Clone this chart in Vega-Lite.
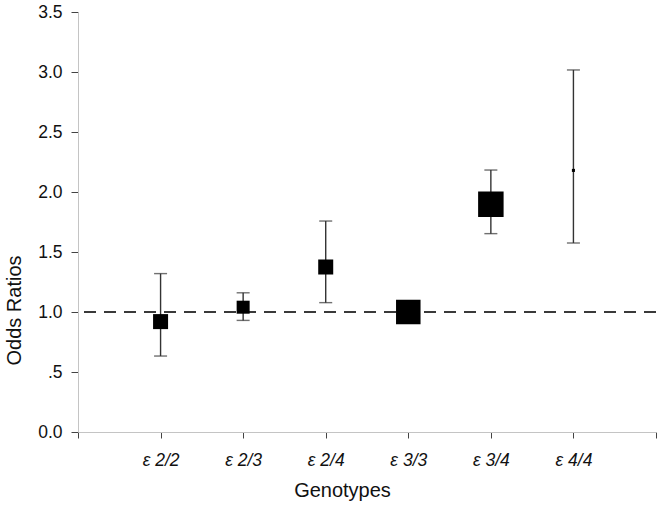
{
  "$schema": "https://vega.github.io/schema/vega-lite/v6.json",
  "width": 578,
  "height": 420,
  "autosize": "none",
  "padding": {"left": 78, "top": 12, "right": 8, "bottom": 73},
  "background": "white",
  "config": {
    "view": {"stroke": null},
    "font": "Liberation Sans",
    "axis": {"grid": false, "domainColor": "#c4c4c4", "domainWidth": 1, "tickColor": "#444444", "tickWidth": 1, "labelColor": "#111111", "titleColor": "#111111", "titleFontWeight": "normal"}
  },
  "data": {
    "values": [
      {"genotype": "ε 2/2", "or": 0.92, "lo": 0.633, "hi": 1.32, "weight": 12.0},
      {"genotype": "ε 2/3", "or": 1.04, "lo": 0.93, "hi": 1.16, "weight": 9.0},
      {"genotype": "ε 2/4", "or": 1.375, "lo": 1.078, "hi": 1.758, "weight": 12.0},
      {"genotype": "ε 3/3", "or": 1.0, "lo": null, "hi": null, "weight": 32.0},
      {"genotype": "ε 3/4", "or": 1.898, "lo": 1.653, "hi": 2.183, "weight": 34.6},
      {"genotype": "ε 4/4", "or": 2.18, "lo": 1.575, "hi": 3.017, "weight": 0.5}
    ]
  },
  "encoding": {
    "x": {
      "field": "genotype",
      "type": "nominal",
      "scale": {"type": "point", "domain": [" ", "ε 2/2", "ε 2/3", "ε 2/4", "ε 3/3", "ε 3/4", "ε 4/4", "  "], "padding": 0},
      "axis": {"title": "Genotypes", "labelAngle": 0, "labelFontSize": 17.5, "labelFontStyle": "italic", "labelPadding": 13, "tickSize": 6, "titleFontSize": 20, "titleX": 264, "titleY": 48, "titleAlign": "center", "titleBaseline": "top"}
    }
  },
  "layer": [
    {
      "mark": {"type": "rule", "color": "#3a3a3a", "strokeWidth": 1.5, "strokeDash": [12, 8]},
      "encoding": {"x": null, "y": {"datum": 1, "type": "quantitative"}}
    },
    {
      "mark": {"type": "rule", "color": "#333333", "strokeWidth": 1.4},
      "encoding": {
        "y": {"field": "lo", "type": "quantitative"},
        "y2": {"field": "hi"}
      }
    },
    {
      "mark": {"type": "tick", "orient": "horizontal", "color": "#333333", "size": 13, "thickness": 1.4},
      "encoding": {"y": {"field": "lo", "type": "quantitative"}}
    },
    {
      "mark": {"type": "tick", "orient": "horizontal", "color": "#333333", "size": 13, "thickness": 1.4},
      "encoding": {"y": {"field": "hi", "type": "quantitative"}}
    },
    {
      "mark": {"type": "point", "shape": "square", "filled": true, "color": "#000000", "opacity": 1, "strokeWidth": 0},
      "encoding": {
        "y": {
          "field": "or",
          "type": "quantitative",
          "scale": {"domain": [0, 3.5], "nice": false, "zero": true},
          "axis": {"title": "Odds Ratios", "values": [0, 0.5, 1, 1.5, 2, 2.5, 3, 3.5], "labelExpr": "datum.value == 0.5 ? '.5' : format(datum.value, '.1f')", "labelFontSize": 17.5, "labelPadding": 9, "tickSize": 7, "titleFontSize": 20, "titleX": -64, "titleY": 298, "titleAngle": -90, "titleAlign": "center", "titleBaseline": "middle"}
        },
        "size": {"field": "weight", "type": "quantitative", "scale": {"type": "linear", "domain": [0, 100], "range": [0, 1878]}, "legend": null}
      }
    }
  ],
  "resolve": {"scale": {"y": "shared"}}
}
